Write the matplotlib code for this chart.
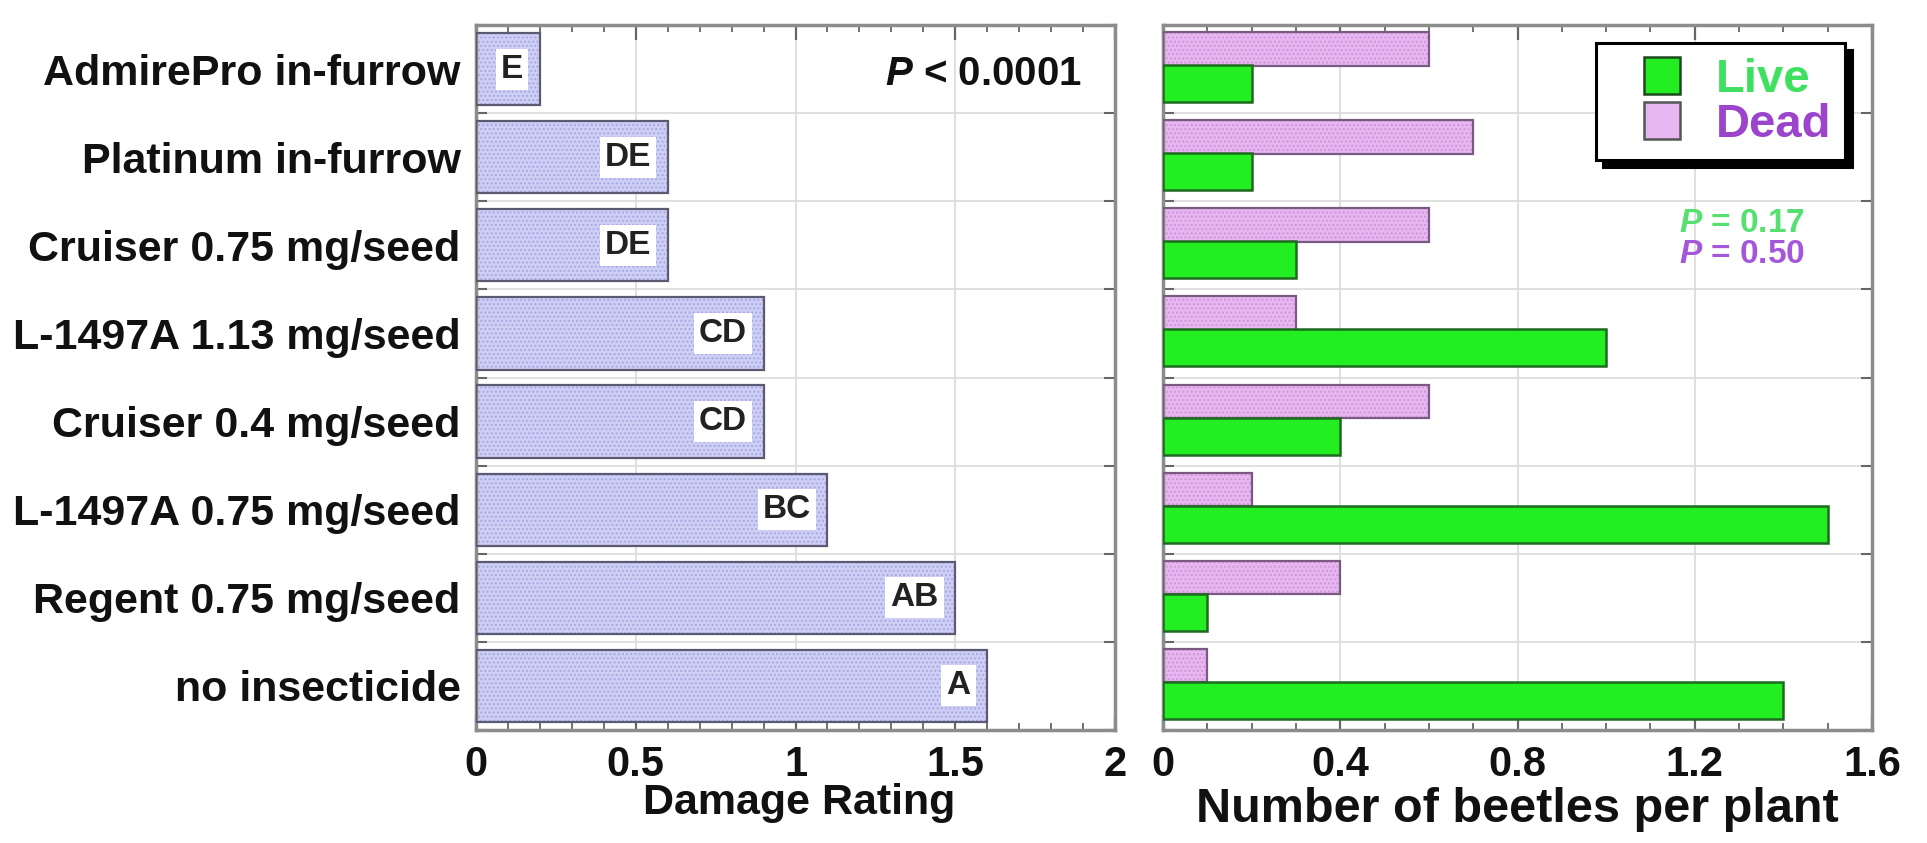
import numpy as np
import matplotlib
matplotlib.use("Agg")
import matplotlib.pyplot as plt
from matplotlib.patches import Patch, Rectangle
from matplotlib.legend_handler import HandlerPatch
from matplotlib.ticker import MultipleLocator

plt.rcParams['font.family'] = ['Liberation Sans', 'DejaVu Sans']
plt.rcParams['mathtext.fontset'] = 'custom'
plt.rcParams['mathtext.it'] = 'Liberation Sans:italic:bold'
plt.rcParams['mathtext.rm'] = 'Liberation Sans:bold'
plt.rcParams['hatch.linewidth'] = 1.0

# ---- data (top to bottom) ----
treatments = ["AdmirePro in-furrow", "Platinum in-furrow", "Cruiser 0.75 mg/seed",
              "L-1497A 1.13 mg/seed", "Cruiser 0.4 mg/seed", "L-1497A 0.75 mg/seed",
              "Regent 0.75 mg/seed", "no insecticide"]
damage = [0.2, 0.6, 0.6, 0.9, 0.9, 1.1, 1.5, 1.6]
letters = ["E", "DE", "DE", "CD", "CD", "BC", "AB", "A"]
dead = [0.6, 0.7, 0.6, 0.3, 0.6, 0.2, 0.4, 0.1]
live = [0.2, 0.2, 0.3, 1.0, 0.4, 1.5, 0.1, 1.4]
left_xticks = [0, 0.5, 1, 1.5, 2]
left_xticklabels = ["0", "0.5", "1", "1.5", "2"]
right_xticks = [0, 0.4, 0.8, 1.2, 1.6]
right_xticklabels = ["0", "0.4", "0.8", "1.2", "1.6"]

W, H = 1927, 843
fig = plt.figure(figsize=(W / 100, H / 100), dpi=100)
fig.patch.set_facecolor("white")

ax1 = fig.add_axes([476 / W, 1 - 730 / H, (1115 - 476) / W, (730 - 25) / H])
ax2 = fig.add_axes([1163 / W, 1 - 730 / H, (1872 - 1163) / W, (730 - 25) / H])

n = len(treatments)
pos = np.arange(n) + 0.5

LBL = 30
TXT_COLOR = "#111111"
SPINE = "#8c8c8c"

def style_axes(ax, xmax, major, minor):
    ax.set_xlim(0, xmax)
    ax.set_ylim(n, 0)
    ax.xaxis.set_major_locator(MultipleLocator(major))
    ax.xaxis.set_minor_locator(MultipleLocator(minor))
    ax.tick_params(axis="x", which="major", direction="in", top=True, bottom=True,
                   length=11, width=1.6, color="#666666", pad=11,
                   labelsize=LBL, labelcolor=TXT_COLOR)
    ax.tick_params(axis="x", which="minor", direction="in", top=True, bottom=True,
                   length=5, width=1.3, color="#666666")
    ax.set_yticks(np.arange(n + 1), minor=True)
    ax.tick_params(axis="y", which="minor", direction="in", left=True, right=True,
                   length=8, width=1.5, color="#666666")
    ax.grid(True, axis="x", which="major", color="#dadada", lw=1.2, zorder=0)
    ax.grid(True, axis="y", which="minor", color="#dadada", lw=1.2, zorder=0)
    ax.set_axisbelow(True)
    for s in ax.spines.values():
        s.set_color(SPINE)
        s.set_linewidth(2.5)

# ---- left panel ----
style_axes(ax1, 2, 0.5, 0.1)
ax1.set_xticks(left_xticks, left_xticklabels)
ax1.set_yticks(pos, treatments)
ax1.tick_params(axis="y", which="major", length=0, pad=11, labelsize=31,
                labelcolor=TXT_COLOR)
for lab in ax1.get_yticklabels() + ax1.get_xticklabels():
    lab.set_fontweight("bold")

ax1.barh(pos, damage, height=0.82, color="#cfcff6", edgecolor="none", zorder=2)
ax1.barh(pos, damage, height=0.82, color="none", edgecolor="#a6a8e2", hatch="....",
         lw=0, zorder=2.5)
ax1.barh(pos, damage, height=0.82, color="none", edgecolor="#5a5a72", lw=1.6,
         zorder=3)
for y, v, t in zip(pos, damage, letters):
    ax1.annotate(t, xy=(v, y), xytext=(-12, 0), textcoords="offset points",
                 ha="right", va="center", fontsize=24, fontweight="bold",
                 color="#222222", zorder=4,
                 bbox=dict(boxstyle="square,pad=0.15", fc="white", ec="none"))
ax1.set_xlabel("Damage Rating", fontsize=31, fontweight="bold", color=TXT_COLOR)
ax1.xaxis.set_label_coords(0.505, -0.075)
ax1.text(0.948, 0.93, r"$P$ < 0.0001", transform=ax1.transAxes, ha="right",
         va="center", fontsize=29, fontweight="bold", color=TXT_COLOR)

# ---- right panel ----
style_axes(ax2, 1.6, 0.4, 0.1)
ax2.set_xticks(right_xticks, right_xticklabels)
ax2.set_yticks([])
ax2.set_yticks(np.arange(n + 1), minor=True)
for lab in ax2.get_xticklabels():
    lab.set_fontweight("bold")

dead_c = "#e8b6f0"
live_c = "#22ee22"
ax2.barh(pos - 0.23, dead, height=0.38, color=dead_c, edgecolor="none", zorder=2)
ax2.barh(pos - 0.23, dead, height=0.38, color="none", edgecolor="#cf96da",
         hatch="....", lw=0, zorder=2.5)
ax2.barh(pos - 0.23, dead, height=0.38, color="none", edgecolor="#7a5a80",
         lw=1.6, zorder=3)
ax2.barh(pos + 0.165, live, height=0.42, color=live_c, edgecolor="#1f6a1f",
         lw=1.8, zorder=3)
ax2.set_xlabel("Number of beetles per plant", fontsize=35, fontweight="bold",
               color=TXT_COLOR)
ax2.xaxis.set_label_coords(0.5, -0.081)


def square_patch(legend, orig_handle, xdescent, ydescent, width, height, fontsize):
    w = 0.78 * fontsize
    return Rectangle((-xdescent + width - w, -ydescent), w, height)


handles = [Patch(facecolor=live_c, edgecolor="#1f4a1f", lw=1.8),
           Patch(facecolor=dead_c, edgecolor="#555555", lw=1.8)]
leg = ax2.legend(handles, ["Live", "Dead"], loc="upper right",
                 bbox_to_anchor=(0.962, 0.974), borderaxespad=0,
                 fontsize=34, frameon=True, fancybox=False,
                 shadow={"ox": 5, "oy": -5, "color": "black", "alpha": 1},
                 handler_map={Patch: HandlerPatch(patch_func=square_patch)},
                 handlelength=1.5, handleheight=0.85, handletextpad=0.76,
                 borderpad=0.28, labelspacing=0.0)
leg.get_frame().set_edgecolor("black")
leg.get_frame().set_linewidth(2.2)
leg.set_zorder(10)
for txt, c in zip(leg.get_texts(), ["#3fe060", "#9b45cc"]):
    txt.set_color(c)
    txt.set_fontweight("bold")

ax2.text(0.905, 0.718, r"$P$ = 0.17", transform=ax2.transAxes, ha="right",
         va="center", fontsize=24, fontweight="bold", color="#55e070")
ax2.text(0.905, 0.674, r"$P$ = 0.50", transform=ax2.transAxes, ha="right",
         va="center", fontsize=24, fontweight="bold", color="#a457d8")

fig.savefig("out.png", dpi=100)
